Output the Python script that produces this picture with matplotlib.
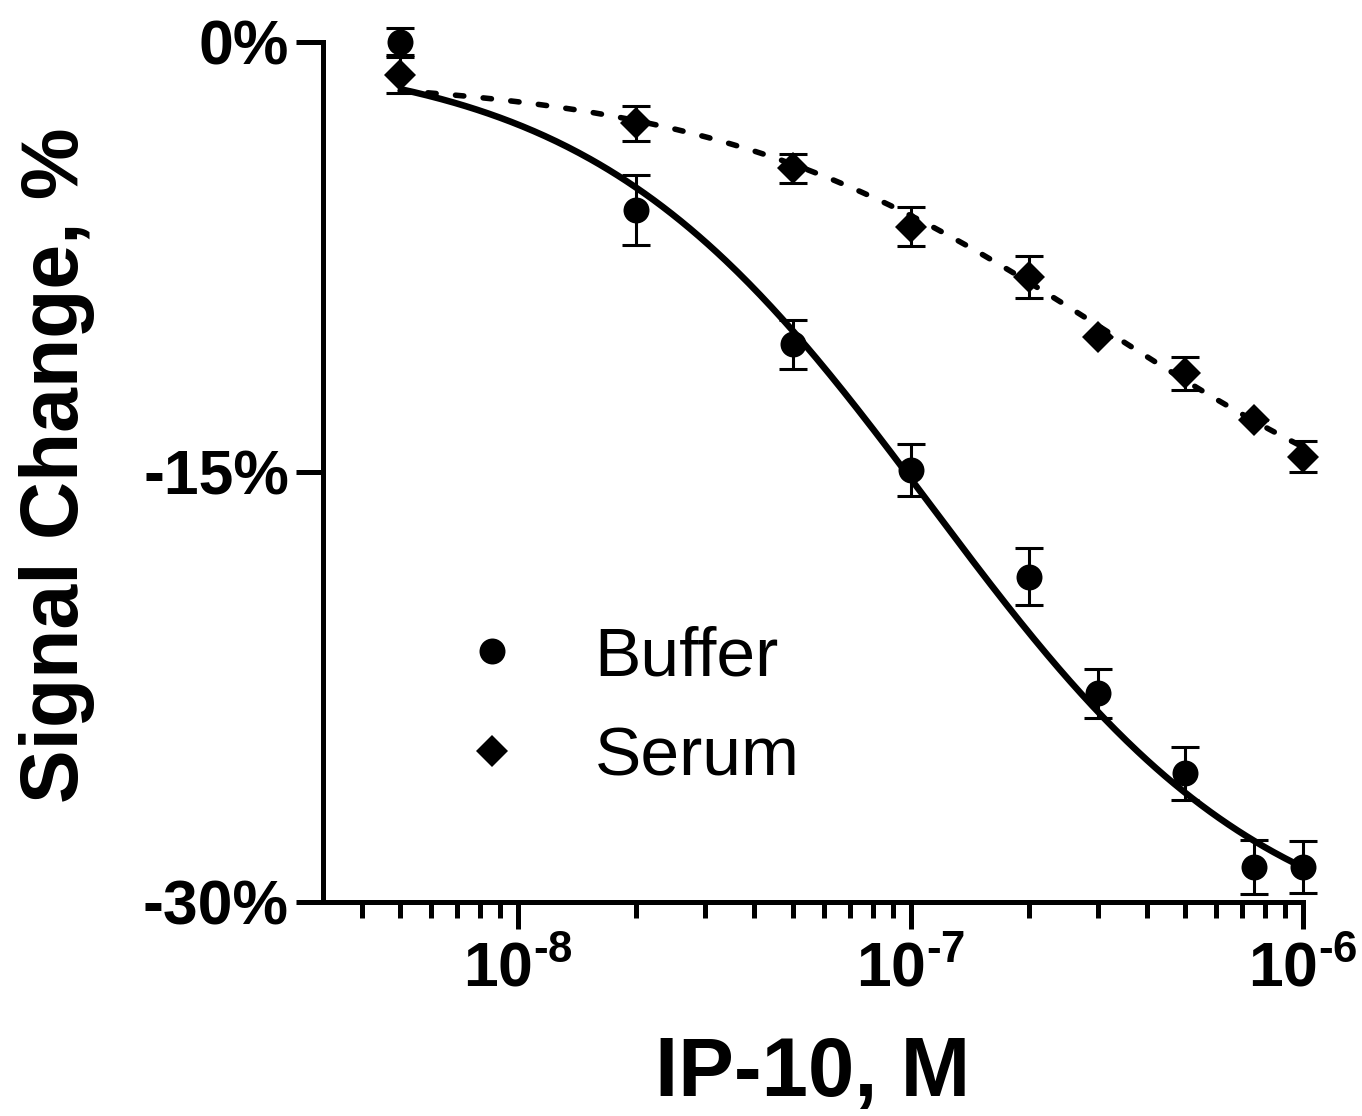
import numpy as np
import matplotlib
matplotlib.use('Agg')
import matplotlib.pyplot as plt
from matplotlib.lines import Line2D
from matplotlib.ticker import LogLocator, NullFormatter

plt.rcParams['font.family'] = ['Liberation Sans', 'DejaVu Sans']
plt.rcParams['mathtext.fontset'] = 'custom'
plt.rcParams['mathtext.bf'] = 'Liberation Sans:bold'
plt.rcParams['mathtext.rm'] = 'Liberation Sans:bold'

# ---- data ----
conc = [5e-9, 2e-8, 5e-8, 1e-7, 2e-7, 3e-7, 5e-7, 7.5e-7, 1e-6]
buffer_mean = [0.0, -5.87, -10.56, -14.94, -18.66, -22.73, -25.52, -28.78, -28.78]
buffer_sem = [0.47, 1.21, 0.85, 0.92, 1.00, 0.86, 0.93, 0.94, 0.91]
serum_mean = [-1.15, -2.85, -4.42, -6.45, -8.20, -10.29, -11.57, -13.20, -14.47]
serum_sem = [0.63, 0.60, 0.50, 0.67, 0.74, 0.0, 0.58, 0.0, 0.55]

# four-parameter logistic fits (top, bottom, logEC50, hill)
buffer_fit = [-0.3, -32.0, -6.95, 1.0]
serum_fit = [-1.2, -19.0, -6.5, 0.85]

x_ticks = [1e-8, 1e-7, 1e-6]
x_tick_labels = [r'$\mathbf{10^{\text{-8}}}$', r'$\mathbf{10^{\text{-7}}}$', r'$\mathbf{10^{\text{-6}}}$']
y_ticks = [0, -15, -30]
y_tick_labels = ['0%', '-15%', '-30%']
series_names = ['Buffer', 'Serum']


def logistic(x, p):
    top, bottom, logec50, hill = p
    return top + (bottom - top) / (1 + 10 ** ((logec50 - np.log10(x)) * hill))


W, H = 1362, 1116
fig = plt.figure(figsize=(W / 100, H / 100), dpi=100)
ax = fig.add_axes([323 / W, 1 - 901.7 / H, (1303 - 323) / W, (901.7 - 41.7) / H])

ax.set_xscale('log')
ax.set_xlim(3.18e-9, 1e-6)
ax.set_ylim(-30, 0)

xs = np.logspace(np.log10(conc[0]), np.log10(conc[-1]), 400)
ax.plot(xs, logistic(xs, buffer_fit), color='k', lw=4.7, solid_capstyle='butt', zorder=2, clip_on=False)
ax.plot(xs, logistic(xs, serum_fit), color='k', lw=4.0, linestyle=(0, (1.5, 3.5)),
        dash_capstyle='round', zorder=2, clip_on=False)

for mean, sem in [(buffer_mean, buffer_sem), (serum_mean, serum_sem)]:
    eb = ax.errorbar(conc, mean, yerr=sem, fmt='none', ecolor='k', elinewidth=2.2,
                     capsize=10.4, capthick=2.2, zorder=3)
    for art in eb.get_children():
        art.set_clip_on(False)

ax.plot(conc, buffer_mean, ls='none', marker='o', ms=18.7, mew=0, color='k', zorder=4, clip_on=False)
ax.plot(conc, serum_mean, ls='none', marker='D', ms=15.8, mew=0, color='k', zorder=4, clip_on=False)

# axes styling
for s in ['top', 'right']:
    ax.spines[s].set_visible(False)
for s in ['left', 'bottom']:
    ax.spines[s].set_linewidth(3.6)
    ax.spines[s].set_capstyle('projecting')

ax.set_yticks(y_ticks)
ax.set_yticklabels(y_tick_labels, fontsize=45, fontweight='bold')
ax.set_xticks(x_ticks)
ax.set_xticklabels(x_tick_labels, fontsize=45)
ax.xaxis.set_minor_locator(LogLocator(base=10, subs=np.arange(2, 10)))
ax.xaxis.set_minor_formatter(NullFormatter())
ax.tick_params(axis='both', which='major', length=19.5, width=3.6, direction='out')
ax.tick_params(axis='x', which='major', pad=8)
ax.tick_params(axis='y', which='major', pad=5)
ax.tick_params(axis='x', which='minor', length=11.7, width=3.6, direction='out')

fig.text(78 / W, 1 - 465 / H, 'Signal Change, %', rotation=90, rotation_mode='anchor',
         ha='center', va='baseline', fontsize=58, fontweight='bold')
fig.text(812.5 / W, 1 - 1096 / H, 'IP-10, M', ha='center', va='baseline',
         fontsize=60, fontweight='bold')

handles = [Line2D([], [], ls='none', marker='o', ms=18.7, mew=0, color='k'),
           Line2D([], [], ls='none', marker='D', ms=15.8, mew=0, color='k')]
ax.legend(handles, series_names, loc='upper left', bbox_to_anchor=(457 / W, 1 - 625 / H),
          bbox_transform=fig.transFigure, frameon=False, fontsize=50, handlelength=1.0,
          handletextpad=0.98, labelspacing=0.52, borderpad=0, borderaxespad=0)

fig.savefig('out.png', dpi=100)
